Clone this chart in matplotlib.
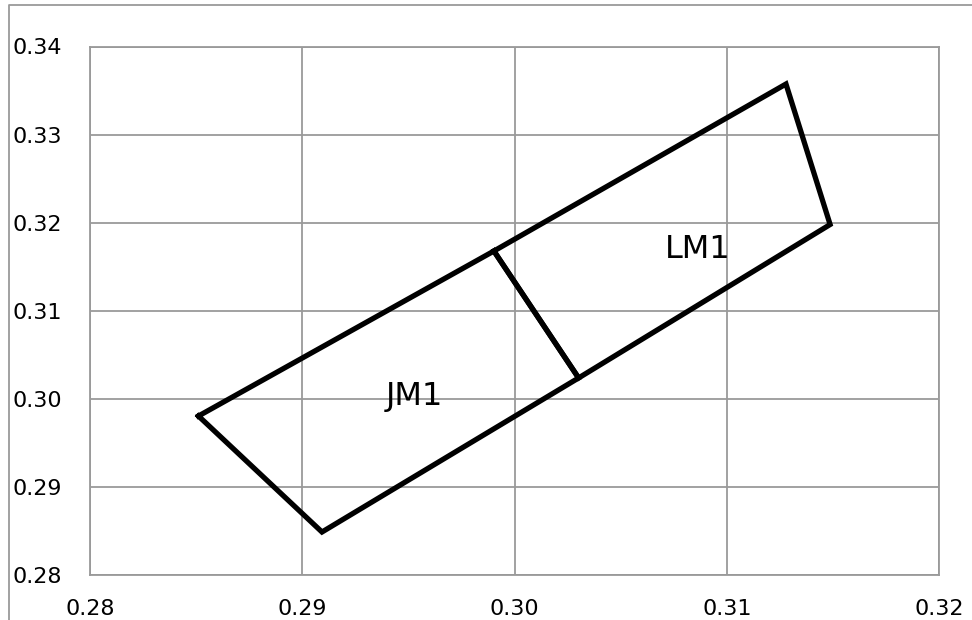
import matplotlib
matplotlib.use("Agg")
import matplotlib.pyplot as plt
from matplotlib.lines import Line2D

# Bin corners (CIE x, y)
jm1_x = [0.28511, 0.29903, 0.30302, 0.29093]
jm1_y = [0.29805, 0.31678, 0.30237, 0.28488]
lm1_x = [0.29903, 0.31279, 0.31487, 0.30302]
lm1_y = [0.31678, 0.33574, 0.31979, 0.30237]

bin_names = ["JM1", "LM1"]
label_x = [0.29527, 0.30865]
label_y = [0.30032, 0.31690]

x_ticks = [0.28, 0.29, 0.30, 0.31, 0.32]
y_ticks = [0.28, 0.29, 0.30, 0.31, 0.32, 0.33, 0.34]

plt.rcParams['font.family'] = ['DejaVu Sans']

fig = plt.figure(figsize=(9.72, 6.2), dpi=100)
ax = fig.add_axes([90 / 972, 45 / 620, 849 / 972, 528.5 / 620])

grid_col = '#9a9a9a'
for xs, ys in [(jm1_x, jm1_y), (lm1_x, lm1_y)]:
    ax.plot(xs + xs[:1], ys + ys[:1], color='black', linewidth=3.8,
            solid_joinstyle='miter', zorder=3)

for name, lx, ly in zip(bin_names, label_x, label_y):
    ax.text(lx, ly, name, fontsize=23, ha='center', va='center', zorder=4)

ax.set_xlim(0.28, 0.32)
ax.set_ylim(0.28, 0.34)
ax.set_xticks(x_ticks)
ax.set_yticks(y_ticks)
ax.set_xticklabels([f"{v:.2f}" for v in x_ticks])
ax.set_yticklabels([f"{v:.2f}" for v in y_ticks])
ax.tick_params(length=0, labelsize=16)
ax.tick_params(axis='x', pad=17)
ax.tick_params(axis='y', pad=20)
ax.grid(True, color=grid_col, linewidth=1.3)
ax.set_axisbelow(True)
for s in ax.spines.values():
    s.set_color(grid_col)
    s.set_linewidth(1.3)

# outer chart border (only left and top edges visible)
fig.add_artist(Line2D([8.5 / 972, 8.5 / 972, 1.0], [0.0, 1 - 5 / 620, 1 - 5 / 620],
                      transform=fig.transFigure, color=grid_col, linewidth=1.3))

fig.savefig("out.png", dpi=100)
